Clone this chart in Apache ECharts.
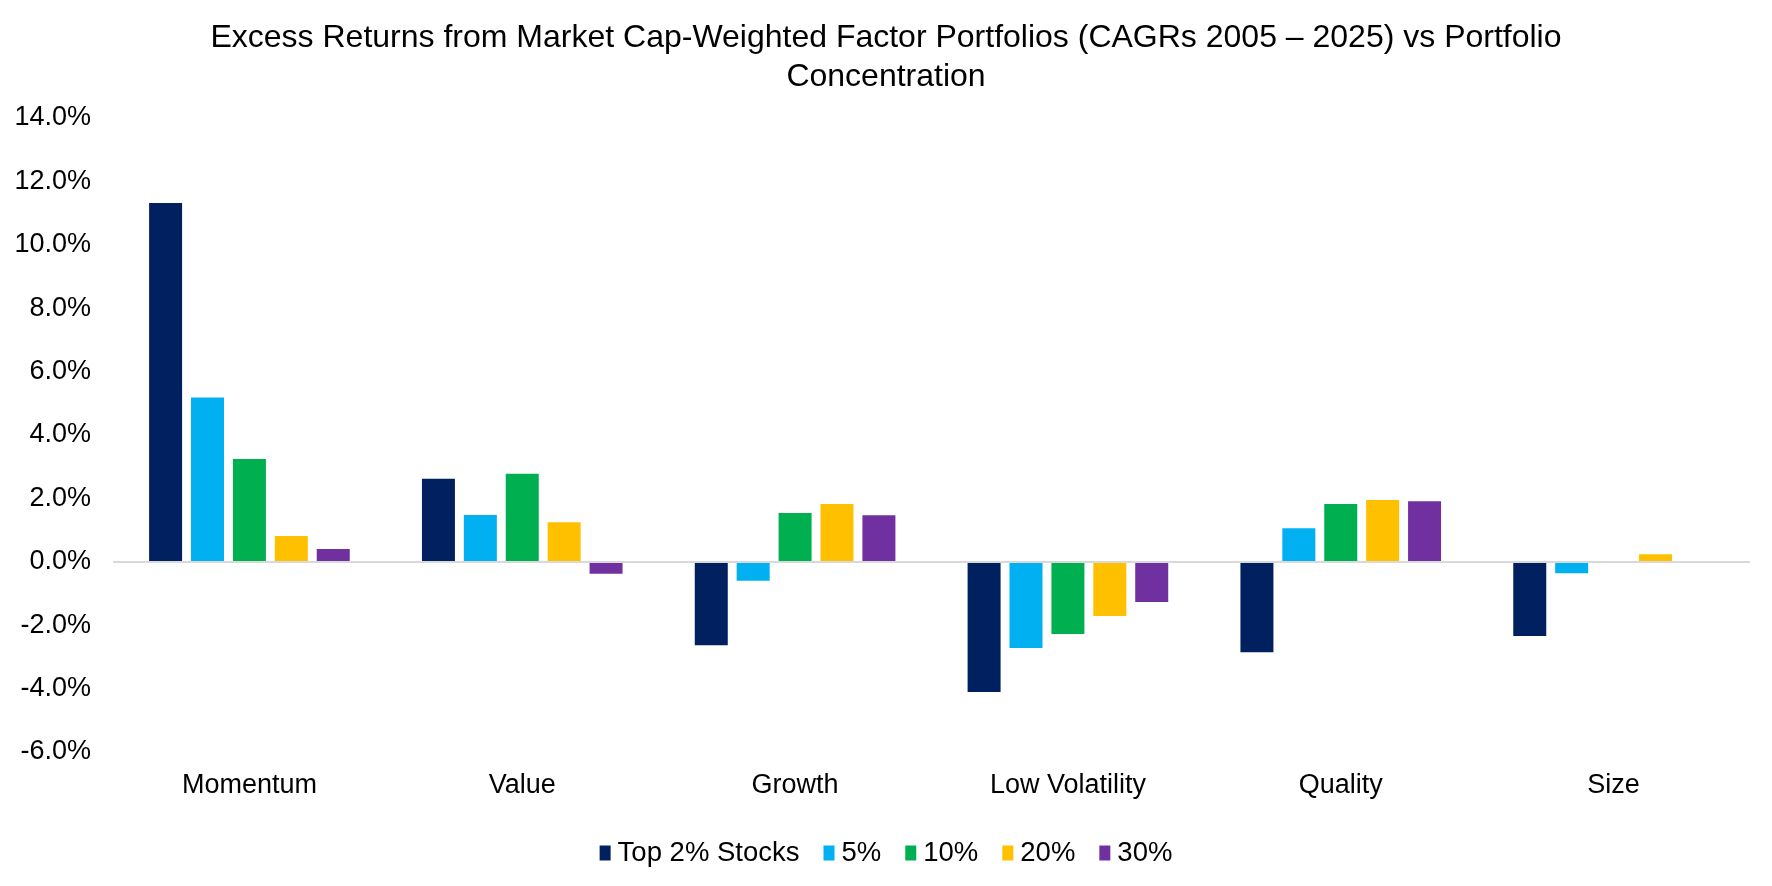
<!DOCTYPE html>
<html>
<head>
<meta charset="utf-8">
<script src="https://cdn.jsdelivr.net/npm/echarts@6/dist/echarts.min.js"></script>
<style>
html, body { margin: 0; padding: 0; background: #fff; }
#main { width: 1772px; height: 886px; }
</style>
</head>
<body>
<div id="main"></div>
<script>
// factor categories
var categories = ['Momentum', 'Value', 'Growth', 'Low Volatility', 'Quality', 'Size'];
// excess CAGR in %, by portfolio concentration
var top2 = [11.32, 2.62, -2.63, -4.11, -2.85, -2.34];
var pct5 = [5.18, 1.48, -0.60, -2.72, 1.06, -0.36];
var pct10 = [3.24, 2.78, 1.54, -2.28, 1.82, 0];
var pct20 = [0.81, 1.25, 1.82, -1.71, 1.95, 0.24];
var pct30 = [0.40, -0.38, 1.47, -1.27, 1.91, 0];
var seriesNames = ['Top 2% Stocks', '5%', '10%', '20%', '30%'];
var colors = ['#002060', '#00B0F0', '#00B050', '#FFC000', '#7030A0'];

var font = 'Arial, "Liberation Sans", sans-serif';
var myChart = echarts.init(document.getElementById('main'));

function makeSeries(name, data, i) {
	var s = {
		name: name,
		type: 'bar',
		data: data,
		barWidth: 33,
		barGap: '27%',
		itemStyle: { color: colors[i] }
	};
	// zero line drawn on the first series
	if (i === 0) {
		s.markLine = {
			silent: true,
			symbol: 'none',
			label: { show: false },
			lineStyle: { color: '#d9d9d9', width: 2, type: 'solid' },
			data: [{ yAxis: 0 }]
		};
	}
	return s;
}

var option = {
	animation: false,
	title: {
		text: 'Excess Returns from Market Cap-Weighted Factor Portfolios (CAGRs 2005 \u2013 2025) vs Portfolio\nConcentration',
		left: 'center',
		top: 14,
		textStyle: {
			fontFamily: font,
			fontSize: 32,
			fontWeight: 'normal',
			color: '#000',
			lineHeight: 39
		}
	},
	legend: {
		data: seriesNames,
		left: 'center',
		top: 834,
		icon: 'rect',
		itemWidth: 11,
		itemHeight: 15,
		itemGap: 24,
		textStyle: { fontFamily: font, fontSize: 27.5, color: '#000', padding: [0, 0, 0, 2] }
	},
	grid: {
		left: 113,
		right: 22,
		top: 118,
		bottom: 134
	},
	xAxis: {
		type: 'category',
		data: categories,
		axisLine: { show: false, onZero: false },
		axisTick: { show: false },
		axisLabel: {
			fontFamily: font,
			fontSize: 27,
			color: '#000',
			margin: 20
		}
	},
	yAxis: {
		type: 'value',
		min: -6,
		max: 14,
		interval: 2,
		splitLine: { show: false },
		axisLine: { show: false },
		axisTick: { show: false },
		axisLabel: {
			fontFamily: font,
			fontSize: 27,
			color: '#000',
			margin: 22,
			formatter: function (v) { return v.toFixed(1) + '%'; }
		}
	},
	series: [
		makeSeries(seriesNames[0], top2, 0),
		makeSeries(seriesNames[1], pct5, 1),
		makeSeries(seriesNames[2], pct10, 2),
		makeSeries(seriesNames[3], pct20, 3),
		makeSeries(seriesNames[4], pct30, 4)
	]
};

myChart.setOption(option);
</script>
</body>
</html>
